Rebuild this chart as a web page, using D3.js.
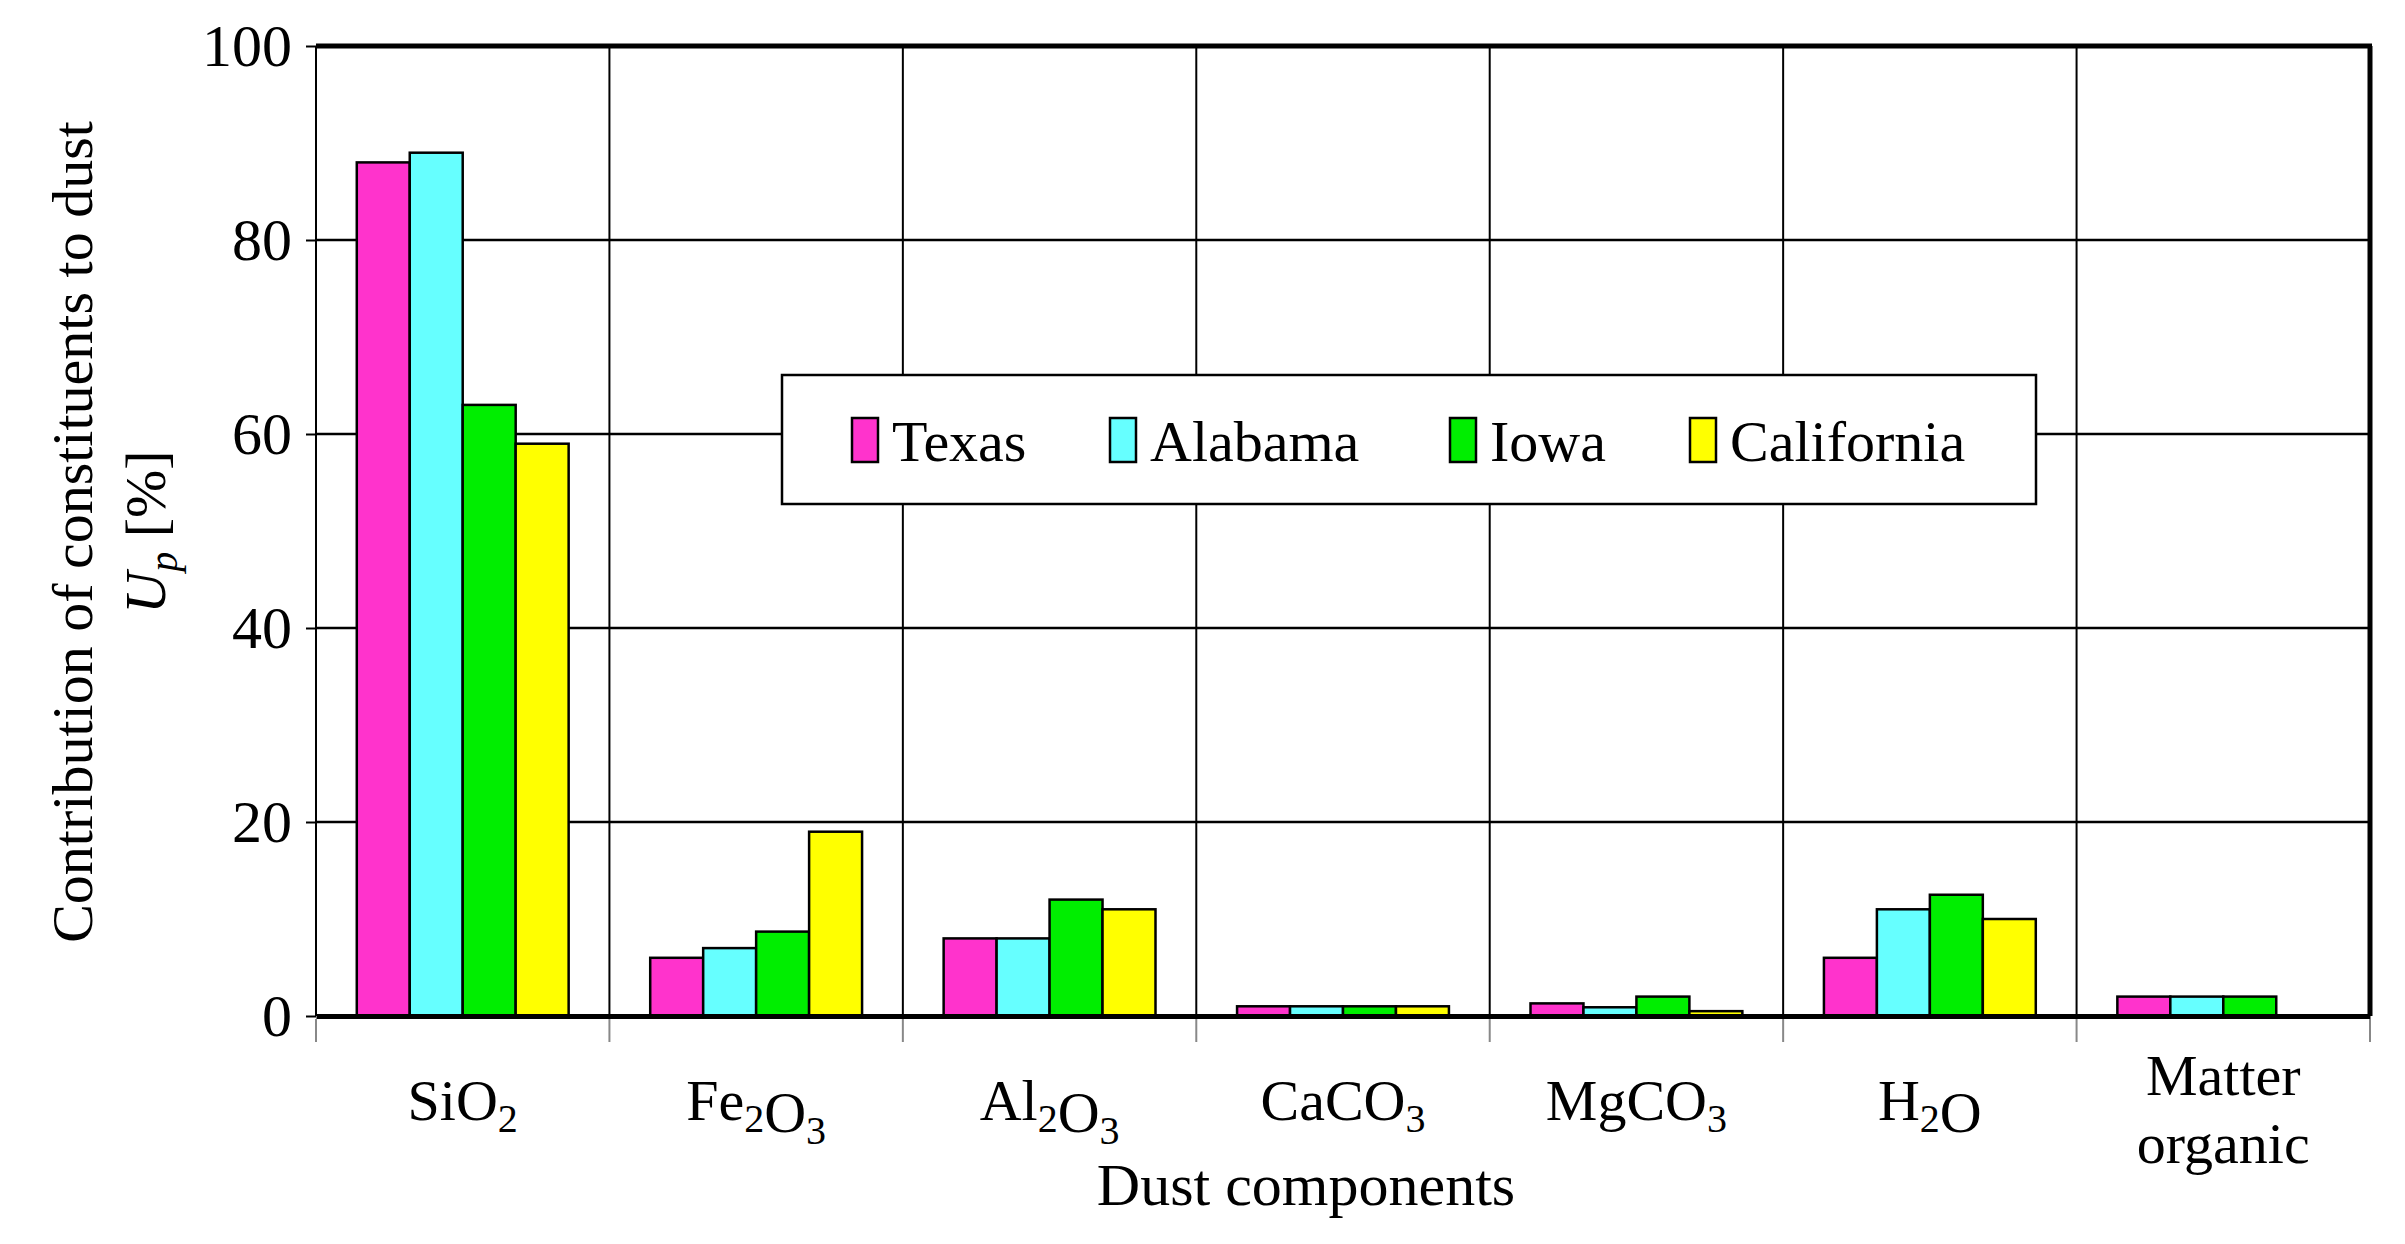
<!DOCTYPE html>
<html><head><meta charset="utf-8">
<script src="https://cdn.jsdelivr.net/npm/d3@7"></script>
<style>body{margin:0;background:#fff}svg{font-family:"Liberation Serif","Times New Roman",serif}</style>
</head><body><svg id="c" width="2405" height="1244"></svg>
<script>
const categories = ["SiO2","Fe2O3","Al2O3","CaCO3","MgCO3","H2O","Matter organic"];
const series = ["Texas","Alabama","Iowa","California"];
const colors = ["#ff33cc","#66ffff","#00ee00","#ffff00"];
const texas = [88,6,8,1,1.3,6,2];
const alabama = [89,7,8,1,0.9,11,2];
const iowa = [63,8.7,12,1,2,12.5,2];
const california = [59,19,11,1,0.5,10,0];
const yTicks = [0,20,40,60,80,100];
const values = [texas,alabama,iowa,california];

const svg = d3.select("#c");
const L=316,R=2370,T=46,B=1016;
const x = d3.scaleBand().domain(categories).range([L,R]);
const xi = d3.scaleBand().domain(series).range([0,x.bandwidth()]).paddingOuter(0.77).paddingInner(0);
const y = d3.scaleLinear().domain([0,100]).range([B,T]);

// horizontal grid
svg.append("g").selectAll("line").data(yTicks.slice(1,5)).join("line")
 .attr("x1",L).attr("x2",R).attr("y1",d=>y(d)).attr("y2",d=>y(d)).attr("stroke","#000").attr("stroke-width",2.5);
// vertical grid
svg.append("g").selectAll("line").data(categories.slice(1)).join("line")
 .attr("x1",d=>x(d)).attr("x2",d=>x(d)).attr("y1",T).attr("y2",B).attr("stroke","#000").attr("stroke-width",2);

// bars
categories.forEach((c,ci)=>{
  series.forEach((s,si)=>{
    const v=values[si][ci]; if(!v) return;
    svg.append("rect").attr("x",x(c)+xi(s)).attr("width",xi.bandwidth()).attr("y",y(v)).attr("height",B-y(v))
      .attr("fill",colors[si]).attr("stroke","#000").attr("stroke-width",2.5);
  });
});

// borders
svg.append("line").attr("x1",L).attr("x2",R+2).attr("y1",T).attr("y2",T).attr("stroke","#000").attr("stroke-width",5);
svg.append("line").attr("x1",R).attr("x2",R).attr("y1",T).attr("y2",B).attr("stroke","#000").attr("stroke-width",5);
svg.append("line").attr("x1",L).attr("x2",L).attr("y1",T).attr("y2",B).attr("stroke","#000").attr("stroke-width",2);

// y axis
const ya = svg.append("g").attr("transform",`translate(${L},0)`).call(d3.axisLeft(y).tickValues(yTicks).tickSize(10).tickPadding(14));
ya.select(".domain").remove();
ya.selectAll("text").attr("font-size",60).attr("font-family","Liberation Serif").attr("fill","#000");
ya.selectAll("line").attr("stroke","#000").attr("stroke-width",2);

// x axis
const xa = svg.append("g").attr("transform",`translate(0,${B})`).call(d3.axisBottom(x).tickSize(0).tickFormat(""));
xa.select(".domain").attr("stroke","#000").attr("stroke-width",5);
svg.append("g").selectAll("line").data(categories.concat(["end"])).join("line")
 .attr("x1",(d,i)=>i<categories.length?x(d):R).attr("x2",(d,i)=>i<categories.length?x(d):R)
 .attr("y1",B+3).attr("y2",B+26).attr("stroke","#888").attr("stroke-width",2);

// category labels with subscripts
const lab = svg.append("g").attr("font-size",58).attr("text-anchor","middle");
categories.forEach(c=>{
  const cx=x(c)+x.bandwidth()/2;
  if(c==="Matter organic"){
    lab.append("text").attr("x",cx).attr("y",1095).text("Matter");
    lab.append("text").attr("x",cx).attr("y",1163).text("organic");
    return;
  }
  const t=lab.append("text").attr("x",cx).attr("y",1120);
  c.match(/[A-Za-z]+|\d+/g).forEach(p=>{
    if(/\d/.test(p)) t.append("tspan").attr("font-size",40).attr("dy",12).text(p).call(s=>s.node().__sub=1);
    else t.append("tspan").attr("dy",t.selectAll("tspan").size() && t.selectAll("tspan").nodes().slice(-1)[0].__sub? -12:0).text(p);
  });
});

svg.append("text").attr("x",1306).attr("y",1205).attr("text-anchor","middle").attr("font-size",60).text("Dust components");

// y title
const yt = svg.append("g").attr("transform","translate(0,532) rotate(-90)").attr("text-anchor","middle").attr("font-size",58);
yt.append("text").attr("x",0).attr("y",92).text("Contribution of constituents to dust");
const t2 = yt.append("text").attr("x",0).attr("y",165);
t2.append("tspan").attr("font-style","italic").text("U");
t2.append("tspan").attr("font-style","italic").attr("font-size",40).attr("dy",12).text("p");
t2.append("tspan").attr("dy",-12).text(" [%]");

// legend
svg.append("rect").attr("x",782).attr("y",375).attr("width",1254).attr("height",129).attr("fill","#fff").attr("stroke","#000").attr("stroke-width",2.5);
const lx=[852,1110,1450,1690];
series.forEach((s,i)=>{
  svg.append("rect").attr("x",lx[i]).attr("y",418).attr("width",26).attr("height",44).attr("fill",colors[i]).attr("stroke","#000").attr("stroke-width",2.5);
  svg.append("text").attr("x",lx[i]+40).attr("y",461).attr("font-size",58).text(s);
});
</script></body></html>
